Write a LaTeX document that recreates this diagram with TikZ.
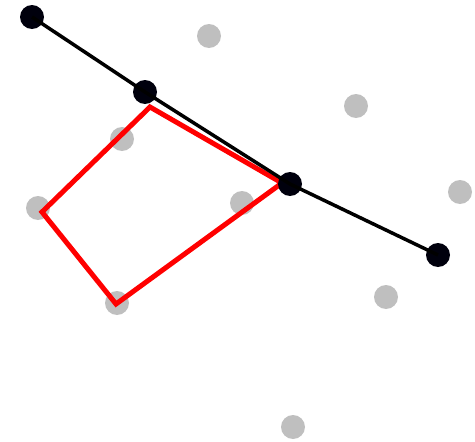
\documentclass[tikz,border=0pt]{standalone}
\begin{document}
\begin{tikzpicture}[x=1pt,y=-1pt,
  blackdot/.style={circle,fill=black!95!blue,inner sep=0pt,minimum size=24pt},
  graydot/.style={circle,fill=black!25,inner sep=0pt,minimum size=24pt},
  corner/.style={coordinate}]
\useasboundingbox (0,0) rectangle (475,442);
\node[graydot] (g1) at (209,36) {};
\node[graydot] (g2) at (356,106) {};
\node[graydot] (g3) at (122,139) {};
\node[graydot] (g4) at (460,192) {};
\node[graydot] (g5) at (38,208) {};
\node[graydot] (g6) at (242,203) {};
\node[graydot] (g7) at (386,297) {};
\node[graydot] (g8) at (117,303) {};
\node[graydot] (g9) at (293,427) {};
\coordinate (r1) at (150,107);
\coordinate (r2) at (282,183);
\coordinate (r3) at (116,304);
\coordinate (r4) at (42,212);
\draw[red,line width=5pt,line join=miter] (r1) -- (r2) -- (r3) -- (r4) -- cycle;
\node[blackdot] (b1) at (32,17) {};
\node[blackdot] (b2) at (145,92) {};
\node[blackdot] (b3) at (290,184) {};
\node[blackdot] (b4) at (438,255) {};
\draw[black,line width=3.5pt,line join=round] (b1.center) -- (b2.center) -- (b3.center) -- (b4.center);
\end{tikzpicture}
\end{document}
